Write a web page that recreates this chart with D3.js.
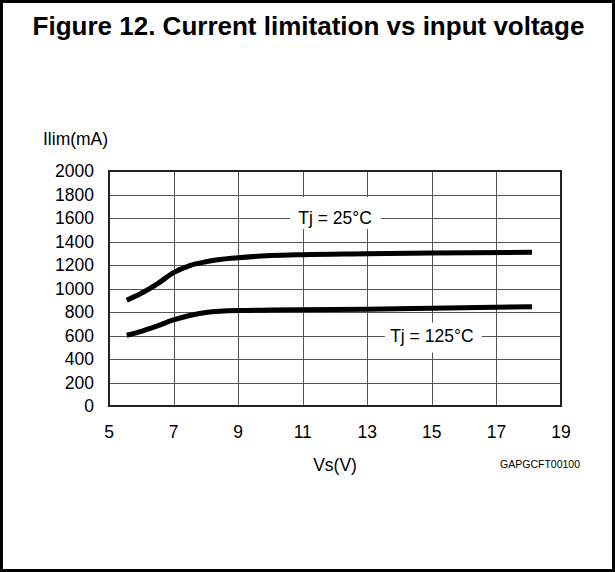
<!DOCTYPE html>
<html>
<head>
<meta charset="utf-8">
<script src="https://cdn.jsdelivr.net/npm/d3@7.9.0/dist/d3.min.js"></script>
<style>
  body { margin: 0; background: #fff; }
  svg { display: block; font-family: "Liberation Sans", Arial, sans-serif; }
</style>
</head>
<body>
<svg id="chart" width="615" height="572"></svg>
<script>
const xTicks = [5, 7, 9, 11, 13, 15, 17, 19];
const yTicks = [0, 200, 400, 600, 800, 1000, 1200, 1400, 1600, 1800, 2000];

// Vs (V) sample points
const vs = [5.55, 6, 6.5, 7, 7.5, 8, 9, 10, 11, 13, 15, 18.1];
const ilim25 = [900, 960, 1040, 1135, 1195, 1228, 1262, 1280, 1288, 1295, 1303, 1308];
const ilim125 = [602, 636, 682, 732, 770, 795, 812, 816, 819, 823, 832, 845];

const series = [
  { label: 'Tj = 25°C', values: ilim25, at: [12, 1600], box: [-45, -21, 91, 32] },
  { label: 'Tj = 125°C', values: ilim125, at: [15, 600], box: [-47, -13, 97, 30] }
];

const svg = d3.select('#chart');
const W = 615, H = 572;
const plot = { left: 109, right: 561, top: 171, bottom: 406 };

const x = d3.scaleLinear().domain([5, 19]).range([plot.left, plot.right]);
const y = d3.scaleLinear().domain([0, 2000]).range([plot.bottom, plot.top]);

// outer frame
svg.append('rect')
  .attr('x', 1.5).attr('y', 1.5)
  .attr('width', W - 3).attr('height', H - 3)
  .attr('fill', 'none').attr('stroke', '#000').attr('stroke-width', 3);

svg.append('text')
  .attr('x', W / 2 + 1).attr('y', 35)
  .attr('text-anchor', 'middle')
  .attr('font-weight', 'bold').attr('font-size', 26)
  .text('Figure 12. Current limitation vs input voltage');

// grid
const grid = svg.append('g').attr('stroke', '#555').attr('stroke-width', 1);
xTicks.slice(1, -1).forEach(t => {
  grid.append('line')
    .attr('x1', Math.round(x(t)) + 0.5).attr('x2', Math.round(x(t)) + 0.5)
    .attr('y1', plot.top).attr('y2', plot.bottom);
});
yTicks.slice(1, -1).forEach(t => {
  grid.append('line')
    .attr('x1', plot.left).attr('x2', plot.right)
    .attr('y1', Math.round(y(t)) + 0.5).attr('y2', Math.round(y(t)) + 0.5);
});

// labels sit on a white patch over the grid
series.forEach(s => {
  const cx = x(s.at[0]), cy = y(s.at[1]);
  svg.append('rect')
    .attr('x', cx + s.box[0]).attr('y', cy + s.box[1])
    .attr('width', s.box[2]).attr('height', s.box[3])
    .attr('fill', '#fff');
  svg.append('text')
    .attr('x', cx).attr('y', cy + 6)
    .attr('text-anchor', 'middle').attr('font-size', 17.5)
    .text(s.label);
});

svg.append('rect')
  .attr('x', plot.left).attr('y', plot.top)
  .attr('width', plot.right - plot.left).attr('height', plot.bottom - plot.top)
  .attr('fill', 'none').attr('stroke', '#222').attr('stroke-width', 2);

const line = d3.line()
  .x((d, i) => x(vs[i]))
  .y(d => y(d))
  .curve(d3.curveMonotoneX);

series.forEach(s => {
  svg.append('path')
    .attr('d', line(s.values))
    .attr('fill', 'none').attr('stroke', '#000').attr('stroke-width', 5);
});

// axes labels
svg.append('g')
  .selectAll('text')
  .data(yTicks)
  .join('text')
  .attr('x', 94).attr('y', d => y(d) + 6)
  .attr('text-anchor', 'end').attr('font-size', 17.5)
  .text(d => d);

svg.append('g')
  .selectAll('text')
  .data(xTicks)
  .join('text')
  .attr('x', d => x(d)).attr('y', 438)
  .attr('text-anchor', 'middle').attr('font-size', 17.5)
  .text(d => d);

svg.append('text')
  .attr('x', 43).attr('y', 145)
  .attr('font-size', 17.5)
  .text('Ilim(mA)');

svg.append('text')
  .attr('x', (plot.left + plot.right) / 2).attr('y', 471)
  .attr('text-anchor', 'middle').attr('font-size', 17.5)
  .text('Vs(V)');

svg.append('text')
  .attr('x', 580).attr('y', 468)
  .attr('text-anchor', 'end').attr('font-size', 10.5)
  .text('GAPGCFT00100');
</script>
</body>
</html>
